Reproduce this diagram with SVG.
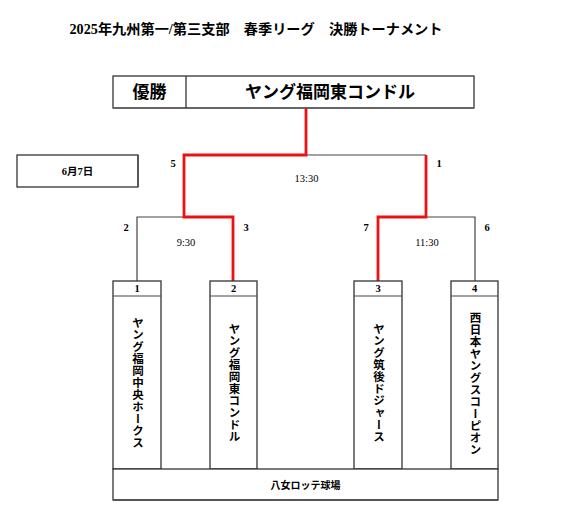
<svg xmlns="http://www.w3.org/2000/svg" width="568" height="527" viewBox="0 0 568 527">
<style>
text{font-family:"Liberation Serif","Noto Sans CJK JP",serif;fill:#000;text-anchor:middle;dominant-baseline:central}
.b{font-weight:bold}
.box{fill:#fff;stroke:#333;stroke-width:1.3}
.ln{fill:none;stroke:#444;stroke-width:1.2}
.red{fill:none;stroke:#ee1111;stroke-width:2.8;stroke-linejoin:miter}
.v{writing-mode:vertical-rl;font-size:11.5px;font-weight:bold;letter-spacing:0.5px}
.num{font-size:10.5px}
</style>
<rect width="568" height="527" fill="#fff"/>
<g id="title"><text class="b" x="256" y="29.5" font-size="14" textLength="373" lengthAdjust="spacingAndGlyphs">2025年九州第一/第三支部　春季リーグ　決勝トーナメント</text></g>
<g id="winner">
<rect class="box" x="113" y="76" width="361" height="32"/>
<line x1="113" y1="108" x2="474" y2="108" stroke="#666" stroke-width="2"/>
<line x1="186" y1="76" x2="186" y2="108" stroke="#333" stroke-width="1.3"/>
<text class="b" x="149.5" y="92" font-size="17">優勝</text>
<text class="b" x="330" y="92" font-size="17">ヤング福岡東コンドル</text>
</g>
<g id="date">
<rect class="box" x="17" y="155" width="121" height="32"/>
<line x1="138" y1="155" x2="138" y2="187" stroke="#555" stroke-width="1.8"/>
<text class="b" x="77.5" y="171" font-size="10.5">6月7日</text>
</g>
<g id="connectors">
<path class="ln" d="M306 155H426"/>
<path class="ln" d="M137 281V217H184"/>
<path class="ln" d="M426 217H475V281"/>
<path class="red" d="M306 108V155H184V217H233V281"/>
<path class="red" d="M426 155V217H378V281"/>
</g>
<g id="labels">
<text class="num b" x="173" y="163">5</text>
<text class="num b" x="439" y="163">1</text>
<text class="num" x="306.5" y="178" font-size="9.5">13:30</text>
<text class="num b" x="126" y="227">2</text>
<text class="num b" x="246" y="227">3</text>
<text class="num b" x="366" y="227">7</text>
<text class="num b" x="487" y="227">6</text>
<text class="num" x="186" y="242" font-size="9.5">9:30</text>
<text class="num" x="427" y="242" font-size="9.5">11:30</text>
</g>
<g id="team1">
<rect class="box" x="113" y="281" width="48" height="188"/>
<line class="ln" x1="113" y1="296" x2="161" y2="296"/>
<text class="num b" x="137" y="288.5">1</text>
<text class="v" x="137" y="382.5">ヤング福岡中央ホークス</text>
</g>
<g id="team2">
<rect class="box" x="210" y="281" width="47" height="188"/>
<line class="ln" x1="210" y1="296" x2="257" y2="296"/>
<text class="num b" x="233.5" y="288.5">2</text>
<text class="v" x="233.5" y="382.5">ヤング福岡東コンドル</text>
</g>
<g id="team3">
<rect class="box" x="354" y="281" width="48" height="188"/>
<line class="ln" x1="354" y1="296" x2="402" y2="296"/>
<text class="num b" x="378" y="288.5">3</text>
<text class="v" x="378" y="382.5">ヤング筑後ドジャース</text>
</g>
<g id="team4">
<rect class="box" x="451" y="281" width="47" height="188"/>
<line class="ln" x1="451" y1="296" x2="498" y2="296"/>
<text class="num b" x="474.5" y="288.5">4</text>
<text class="v" x="474.5" y="383.5">西日本ヤングスコーピオン</text>
</g>
<g id="venue">
<rect class="box" x="113" y="469" width="385" height="31"/>
<line x1="113" y1="500" x2="498" y2="500" stroke="#555" stroke-width="1.8"/>
<text class="b" x="305.5" y="485" font-size="10">八女ロッテ球場</text>
</g>
</svg>
